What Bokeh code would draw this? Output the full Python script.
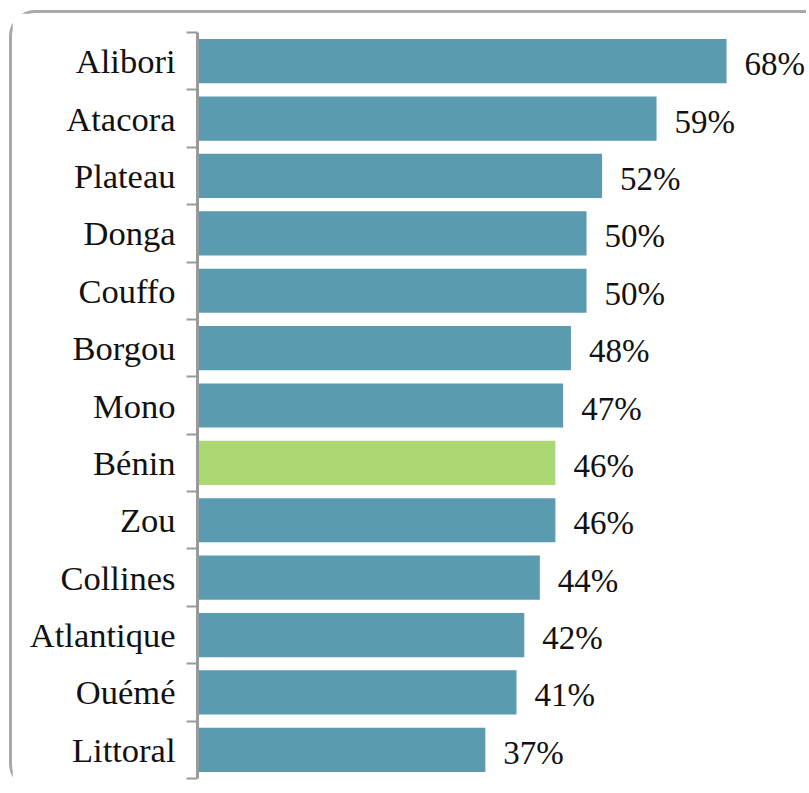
from bokeh.plotting import figure
from bokeh.models import Range1d, FixedTicker, ColumnDataSource
from bokeh.core.properties import value
from bokeh.embed import file_html
from bokeh.resources import INLINE

regions = ["Alibori", "Atacora", "Plateau", "Donga", "Couffo", "Borgou", "Mono",
           "Bénin", "Zou", "Collines", "Atlantique", "Ouémé", "Littoral"]
values = [68, 59, 52, 50, 50, 48, 47, 46, 46, 44, 42, 41, 37]
colors = ["#5a9bb0"] * 7 + ["#abd873"] + ["#5a9bb0"] * 5

FONT = "'Liberation Serif', 'Times New Roman', serif"

n = len(regions)
ypos = list(range(n))
src = ColumnDataSource(dict(y=ypos, v=values, c=colors,
                            lab=[f"{v}%" for v in values]))

W, H = 797, 780
p = figure(width=W, height=H, output_backend="svg", toolbar_location=None,
           x_range=Range1d(0, 78.66), y_range=Range1d(n - 0.5, -0.5),
           min_border_left=185, min_border_right=0, min_border_top=19,
           min_border_bottom=15)
p.outline_line_color = None
p.xgrid.visible = False
p.ygrid.visible = False
p.xaxis.visible = False
p.styles = {"margin-left": "9px", "margin-top": "10px",
            "border-left": "3px solid #a8a8a8", "border-top": "3px solid #a8a8a8",
            "border-top-left-radius": "26px", "border-bottom-left-radius": "26px"}

p.hbar(y="y", left=0, right="v", height=0.77, fill_color="c",
       line_color=None, source=src)
p.text(x="v", y="y", text="lab", source=src, x_offset=18, y_offset=3,
       text_baseline="middle", text_align="left",
       text_font=value(FONT), text_font_size="33px",
       text_color="#111111")

ax = p.yaxis[0]
ax.ticker = FixedTicker(ticks=ypos, minor_ticks=[i - 0.5 for i in range(n + 1)])
ax.major_label_overrides = {i: r for i, r in enumerate(regions)}
ax.major_tick_out = 0
ax.major_tick_in = 0
ax.minor_tick_out = 11
ax.minor_tick_in = 0
ax.minor_tick_line_color = "#9a9a9a"
ax.minor_tick_line_width = 2
ax.axis_line_color = "#9a9a9a"
ax.axis_line_width = 3
ax.major_label_standoff = 11
ax.major_label_text_font = FONT
ax.major_label_text_font_size = "34.5px"
ax.major_label_text_color = "#111111"
ax.major_label_text_font_style = "normal"

open("out.html", "w").write(file_html(p, INLINE))
